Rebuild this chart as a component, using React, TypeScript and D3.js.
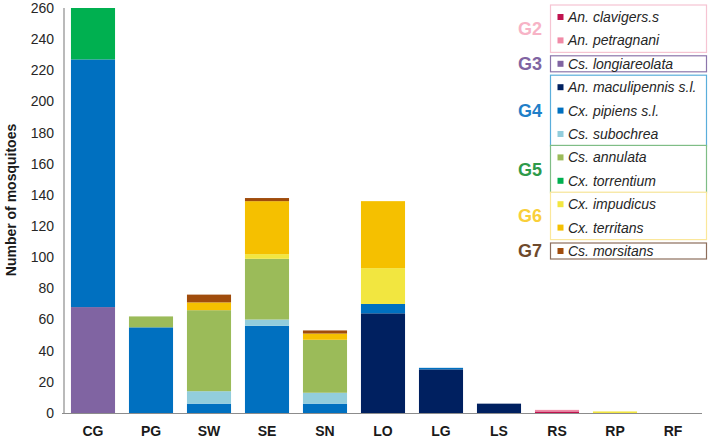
import * as d3 from "d3";
import { useEffect, useRef } from "react";

const sites = ["CG", "PG", "SW", "SE", "SN", "LO", "LG", "LS", "RS", "RP", "RF"];

const species = [
  "An. clavigers.s",
  "An. petragnani",
  "Cs. longiareolata",
  "An. maculipennis s.l.",
  "Cx. pipiens s.l.",
  "Cs. subochrea",
  "Cs. annulata",
  "Cx. torrentium",
  "Cx. impudicus",
  "Cx. territans",
  "Cs. morsitans",
];

const speciesColors = [
  "#c0134f",
  "#f08aa6",
  "#8064a2",
  "#002060",
  "#0070c0",
  "#92cddc",
  "#9bbb59",
  "#00b050",
  "#f2e640",
  "#f5c000",
  "#a04c0c",
];

// counts per site, same order as sites
const clavigers = [0, 0, 0, 0, 0, 0, 0, 0, 1, 0, 0];
const petragnani = [0, 0, 0, 0, 0, 0, 0, 0, 1, 0, 0];
const longiareolata = [68, 0, 0, 0, 0, 0, 0, 0, 0, 0, 0];
const maculipennis = [0, 0, 0, 0, 0, 64, 28, 6, 0, 0, 0];
const pipiens = [159, 55, 6, 56, 6, 6, 1, 0, 0, 0, 0];
const subochrea = [0, 0, 8, 4, 7, 0, 0, 0, 0, 0, 0];
const annulata = [0, 7, 52, 39, 34, 0, 0, 0, 0, 0, 0];
const torrentium = [33, 0, 0, 0, 0, 0, 0, 0, 0, 0, 0];
const impudicus = [0, 0, 0, 3, 0, 23, 0, 0, 0, 1, 0];
const territans = [0, 0, 5, 34, 4, 43, 0, 0, 0, 0, 0];
const morsitans = [0, 0, 5, 2, 2, 0, 0, 0, 0, 0, 0];

const seriesValues = [
  clavigers, petragnani, longiareolata, maculipennis, pipiens, subochrea,
  annulata, torrentium, impudicus, territans, morsitans,
];

const yTicks = [0, 20, 40, 60, 80, 100, 120, 140, 160, 180, 200, 220, 240, 260];

// legend groups: label, label colour, box colour, species indices
const groupLabels = ["G2", "G3", "G4", "G5", "G6", "G7"];
const groupColors = ["#f7b3c6", "#8064a2", "#1f7fc8", "#2e9a4a", "#f9cf3a", "#6e4a2c"];
const groupBorders = ["#f6c4d2", "#8c76ab", "#5aaedb", "#7fbd86", "#fbe79a", "#8d6e5c"];
const groupMembers = [[0, 1], [2], [3, 4, 5], [6, 7], [8, 9], [10]];

const App = () => {
  const svgRef = useRef<SVGSVGElement>(null);

  useEffect(() => {
    const svg = d3.select(svgRef.current);
    svg.selectAll("*").remove();

    const font = "'Liberation Sans', Arial, sans-serif";
    const margin = { top: 8, bottom: 413, left: 64, right: 702 };

    const x = d3
      .scaleBand()
      .domain(sites)
      .range([margin.left, margin.right])
      .paddingInner(0.24)
      .paddingOuter(0.12);

    const y = d3.scaleLinear().domain([0, 260]).range([margin.bottom, margin.top]);

    // stack the series
    const rows = sites.map((s, i) => {
      const r: any = { site: s };
      species.forEach((sp, j) => (r[sp] = seriesValues[j][i]));
      return r;
    });
    const stacked = d3.stack().keys(species)(rows);

    svg
      .append("g")
      .selectAll("g")
      .data(stacked)
      .enter()
      .append("g")
      .attr("fill", (d, i) => speciesColors[i])
      .selectAll("rect")
      .data((d) => d)
      .enter()
      .append("rect")
      .attr("x", (d: any) => x(d.data.site)!)
      .attr("width", x.bandwidth())
      .attr("y", (d) => y(d[1]))
      .attr("height", (d) => y(d[0]) - y(d[1]));

    // axes
    svg
      .append("line")
      .attr("x1", margin.left)
      .attr("x2", margin.left)
      .attr("y1", margin.top)
      .attr("y2", margin.bottom)
      .attr("stroke", "#8c8c8c")
      .attr("stroke-width", 1.2);
    svg
      .append("line")
      .attr("x1", margin.left - 2)
      .attr("x2", margin.right)
      .attr("y1", margin.bottom + 0.5)
      .attr("y2", margin.bottom + 0.5)
      .attr("stroke", "#8c8c8c")
      .attr("stroke-width", 1.2);

    svg
      .append("g")
      .selectAll("text")
      .data(yTicks)
      .enter()
      .append("text")
      .attr("x", 54)
      .attr("y", (d) => y(d))
      .attr("dy", "0.35em")
      .attr("text-anchor", "end")
      .attr("font-family", font)
      .attr("font-size", "14px")
      .attr("fill", "#262626")
      .text((d) => d);

    svg
      .append("g")
      .selectAll("text")
      .data(sites)
      .enter()
      .append("text")
      .attr("x", (d) => x(d)! + x.bandwidth() / 2)
      .attr("y", 436)
      .attr("text-anchor", "middle")
      .attr("font-family", font)
      .attr("font-size", "14px")
      .attr("font-weight", "bold")
      .attr("fill", "#1a1a1a")
      .text((d) => d);

    svg
      .append("text")
      .attr("transform", "translate(16, 200) rotate(-90)")
      .attr("text-anchor", "middle")
      .attr("font-family", font)
      .attr("font-size", "14px")
      .attr("font-weight", "bold")
      .attr("fill", "#1a1a1a")
      .text("Number of mosquitoes");

    // legend
    const rowY = (i: number) => 17 + i * 23.4;
    const legend = svg.append("g");
    groupMembers.forEach((members, g) => {
      const y0 = rowY(members[0]);
      const y1 = rowY(members[members.length - 1]);
      const pad = members.length > 1 ? 12 : 8;
      legend
        .append("rect")
        .attr("x", 550.5)
        .attr("y", y0 - pad)
        .attr("width", 156)
        .attr("height", y1 - y0 + 2 * pad)
        .attr("fill", "white")
        .attr("stroke", groupBorders[g])
        .attr("stroke-width", 1.2);
      legend
        .append("text")
        .attr("x", 530)
        .attr("y", (y0 + y1) / 2)
        .attr("dy", "0.36em")
        .attr("text-anchor", "middle")
        .attr("font-family", font)
        .attr("font-size", "18px")
        .attr("font-weight", "bold")
        .attr("fill", groupColors[g])
        .text(groupLabels[g]);
      members.forEach((m) => {
        legend
          .append("rect")
          .attr("x", 557.5)
          .attr("y", rowY(m) - 3)
          .attr("width", 6)
          .attr("height", 6)
          .attr("fill", speciesColors[m]);
        legend
          .append("text")
          .attr("x", 568)
          .attr("y", rowY(m))
          .attr("dy", "0.35em")
          .attr("font-family", font)
          .attr("font-size", "14px")
          .attr("font-style", "italic")
          .attr("fill", "#262626")
          .text(species[m]);
      });
    });
  }, []);

  return (
    <svg
      ref={svgRef}
      width={709}
      height={438}
      style={{ position: "absolute", left: 0, top: 0, background: "white" }}
    ></svg>
  );
};

export default App;
